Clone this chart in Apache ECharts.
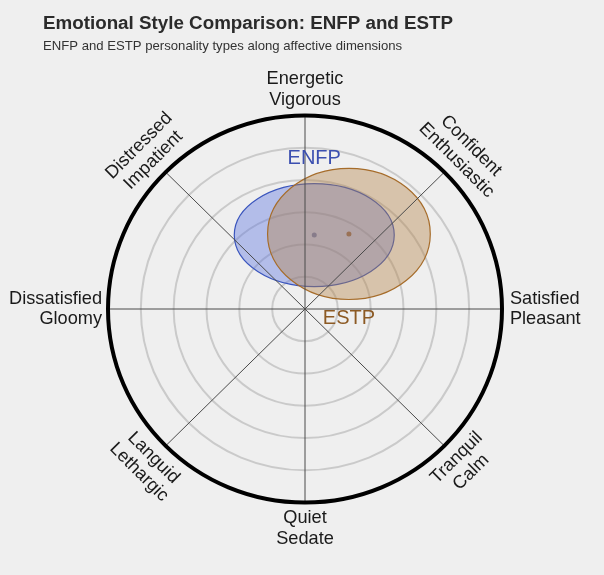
<!DOCTYPE html>
<html><head><meta charset="utf-8">
<script src="https://cdn.jsdelivr.net/npm/echarts@6/dist/echarts.min.js"></script>
<style>html,body{margin:0;padding:0;background:#efefef;}#c{width:604px;height:575px;}</style>
</head><body><div id="c"></div>
<script>
// ---- data ----
const types = ['ENFP', 'ESTP'];
const valence = [0.047, 0.223];      // ellipse centre, x (pleasant +)
const arousal = [0.382, 0.388];      // ellipse centre, y (energetic +)
const spreadValence = [0.406, 0.413];
const spreadArousal = [0.266, 0.339];
const ringLevels = [1/6, 2/6, 3/6, 4/6, 5/6];
const outerLevel = [1];
const dimLabels = ['Satisfied\nPleasant', 'Confident\nEnthusiastic', 'Energetic\nVigorous', 'Distressed\nImpatient',
                   'Dissatisfied\nGloomy', 'Languid\nLethargic', 'Quiet\nSedate', 'Tranquil\nCalm'];
const dimAngles = [0, 45, 90, 135, 180, 225, 270, 315];

// ---- style ----
const FONT = '"Liberation Sans", Arial, Helvetica, sans-serif';
const fills = ['rgba(91,114,224,0.40)', 'rgba(179,131,69,0.40)'];
const strokes = ['#3a55bd', '#a66c2a'];
const dotColors = ['#6a78b8', '#9a7256'];
const labelColors = ['#3b4fb0', '#8c5a24'];
const labelGapPx = [-25.5, 19];   // from ellipse top (neg) / bottom (pos)

const chart = echarts.init(document.getElementById('c'), null, {renderer: 'canvas'});

function rad(a) { return a * Math.PI / 180; }

const option = {
  backgroundColor: '#efefef',
  animation: false,
  graphic: [
    {type: 'text', left: 43, top: 14, style: {text: 'Emotional Style Comparison: ENFP and ESTP', font: 'bold 18.8px ' + FONT, fill: '#2b2b2b'}},
    {type: 'text', left: 43, top: 40, style: {text: 'ENFP and ESTP personality types along affective dimensions', font: '13.15px ' + FONT, fill: '#333'}}
  ],
  grid: {left: 9.5, top: 76.8, width: 591, height: 464.4, show: false, outerBoundsMode: 'none', containLabel: false},
  xAxis: {type: 'value', min: -1.5, max: 1.5, show: false},
  yAxis: {type: 'value', min: -1.2, max: 1.2, show: false},
  series: [
    {
      type: 'custom', name: 'rings', z: 1, silent: true,
      data: ringLevels.map(r => [r]),
      renderItem: function (params, api) {
        const r = api.value(0);
        const c = api.coord([0, 0]);
        const s = api.size([r, r]);
        return {type: 'ellipse', shape: {cx: c[0], cy: c[1], rx: s[0], ry: s[1]},
                style: {fill: 'none', stroke: '#cacaca', lineWidth: 2}};
      }
    },
    {
      type: 'custom', name: 'outer', z: 5, silent: true,
      data: outerLevel.map(r => [r]),
      renderItem: function (params, api) {
        const r = api.value(0);
        const c = api.coord([0, 0]);
        const s = api.size([r, r]);
        return {type: 'ellipse', shape: {cx: c[0], cy: c[1], rx: s[0], ry: s[1]},
                style: {fill: 'none', stroke: '#000', lineWidth: 4}};
      }
    },
    {
      type: 'custom', name: 'ellipses', z: 2, silent: true,
      data: types.map((t, i) => [valence[i], arousal[i], spreadValence[i], spreadArousal[i], i]),
      renderItem: function (params, api) {
        const i = api.value(4);
        const cx = api.value(0), cy = api.value(1), rx = api.value(2), ry = api.value(3);
        const c = api.coord([cx, cy]);
        const s = api.size([rx, ry]);
        return {type: 'group', children: [
          {type: 'ellipse', shape: {cx: c[0], cy: c[1], rx: s[0], ry: s[1]},
           style: {fill: fills[i], stroke: strokes[i], lineWidth: 1.2}},
          {type: 'circle', shape: {cx: c[0], cy: c[1], r: 2.5}, style: {fill: dotColors[i]}}
        ]};
      }
    },
    {
      type: 'custom', name: 'spokes', z: 3, silent: true,
      data: dimAngles.map(a => [a]),
      renderItem: function (params, api) {
        const a = rad(api.value(0));
        const p0 = api.coord([0, 0]);
        const p1 = api.coord([Math.cos(a), Math.sin(a)]);
        return {type: 'line', shape: {x1: p0[0], y1: p0[1], x2: p1[0], y2: p1[1]},
                style: {stroke: '#4a4a4a', lineWidth: 1}};
      }
    },
    {
      type: 'custom', name: 'typeLabels', z: 6, silent: true,
      data: types.map((t, i) => [valence[i], arousal[i], spreadValence[i], spreadArousal[i], i]),
      renderItem: function (params, api) {
        const i = api.value(4);
        const cx = api.value(0), cy = api.value(1), ry = api.value(3);
        const top = api.coord([cx, i === 0 ? cy + ry : cy - ry]);
        return {type: 'text', x: top[0], y: top[1] + labelGapPx[i],
                style: {text: types[i], font: '20px ' + FONT, fill: labelColors[i], align: 'center', verticalAlign: 'middle'}};
      }
    },
    {
      type: 'custom', name: 'dimLabels', z: 6, silent: true,
      data: dimAngles.map((a, i) => [a, i]),
      renderItem: function (params, api) {
        const ang = api.value(0);
        const i = api.value(1);
        const a = rad(ang);
        let r = 1.14, align = 'center', rot = 0;
        if (ang === 0) { r = 1.04; align = 'left'; }
        else if (ang === 180) { r = 1.03; align = 'right'; }
        else if (ang === 90 || ang === 270) { r = 1.135; }
        else if (ang === 45 || ang === 225) { rot = -Math.PI / 4; }
        else { rot = Math.PI / 4; }
        const p = api.coord([r * Math.cos(a), r * Math.sin(a)]);
        return {type: 'text', x: p[0], y: p[1], rotation: rot,
                style: {text: dimLabels[i], font: '18.2px ' + FONT, lineHeight: 20.5, fill: '#1a1a1a',
                        align: align, verticalAlign: 'middle'}};
      }
    }
  ]
};
chart.setOption(option);
</script></body></html>
